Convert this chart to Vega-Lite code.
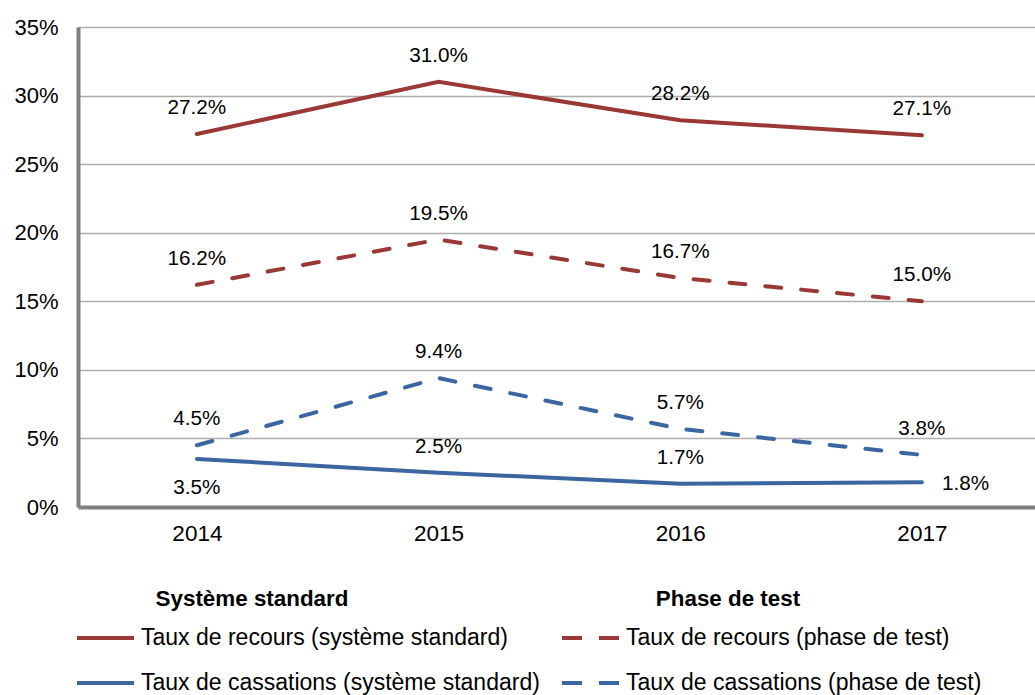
{
  "$schema": "https://vega.github.io/schema/vega-lite/v6.json",
  "width": 957,
  "height": 480,
  "autosize": {"type": "none"},
  "padding": {"left": 78, "top": 27, "right": 0, "bottom": 188},
  "background": "white",
  "config": {
    "view": {"stroke": null},
    "font": "Liberation Sans",
    "legend": {
      "orient": "none",
      "direction": "vertical",
      "symbolType": "stroke",
      "symbolSize": 3249,
      "symbolStrokeWidth": 4,
      "labelFontSize": 23,
      "labelFont": "Liberation Sans",
      "labelColor": "#000000",
      "titleFontSize": 22.4,
      "titleFont": "Liberation Sans",
      "titleFontWeight": "bold",
      "titleColor": "#000000",
      "titleAnchor": "middle",
      "titleLimit": 500,
      "titlePadding": 10,
      "rowPadding": 10,
      "labelOffset": 5,
      "clipHeight": 35,
      "labelLimit": 0
    }
  },
  "data": {
    "values": [
      {"annee": 2014, "serie": "Taux de recours (système standard)", "systeme": "standard", "valeur": 0.272},
      {"annee": 2015, "serie": "Taux de recours (système standard)", "systeme": "standard", "valeur": 0.310},
      {"annee": 2016, "serie": "Taux de recours (système standard)", "systeme": "standard", "valeur": 0.282},
      {"annee": 2017, "serie": "Taux de recours (système standard)", "systeme": "standard", "valeur": 0.271},
      {"annee": 2014, "serie": "Taux de cassations (système standard)", "systeme": "standard", "valeur": 0.035},
      {"annee": 2015, "serie": "Taux de cassations (système standard)", "systeme": "standard", "valeur": 0.025},
      {"annee": 2016, "serie": "Taux de cassations (système standard)", "systeme": "standard", "valeur": 0.017},
      {"annee": 2017, "serie": "Taux de cassations (système standard)", "systeme": "standard", "valeur": 0.018},
      {"annee": 2014, "serie": "Taux de recours (phase de test)", "systeme": "test", "valeur": 0.162},
      {"annee": 2015, "serie": "Taux de recours (phase de test)", "systeme": "test", "valeur": 0.195},
      {"annee": 2016, "serie": "Taux de recours (phase de test)", "systeme": "test", "valeur": 0.167},
      {"annee": 2017, "serie": "Taux de recours (phase de test)", "systeme": "test", "valeur": 0.150},
      {"annee": 2014, "serie": "Taux de cassations (phase de test)", "systeme": "test", "valeur": 0.045},
      {"annee": 2015, "serie": "Taux de cassations (phase de test)", "systeme": "test", "valeur": 0.094},
      {"annee": 2016, "serie": "Taux de cassations (phase de test)", "systeme": "test", "valeur": 0.057},
      {"annee": 2017, "serie": "Taux de cassations (phase de test)", "systeme": "test", "valeur": 0.038}
    ]
  },
  "encoding": {
    "x": {
      "field": "annee",
      "type": "quantitative",
      "scale": {"domain": [2013.508, 2017.468], "nice": false, "zero": false},
      "axis": {
        "values": [2014, 2015, 2016, 2017],
        "format": "d",
        "title": null,
        "grid": false,
        "ticks": false,
        "domainColor": "#7f7f7f",
        "domainWidth": 4,
        "labelFontSize": 22.5,
        "labelColor": "#000000",
        "labelPadding": 15,
        "labelFont": "Liberation Sans"
      }
    },
    "y": {
      "field": "valeur",
      "type": "quantitative",
      "scale": {"domain": [0, 0.35], "nice": false},
      "axis": {
        "values": [0, 0.05, 0.1, 0.15, 0.2, 0.25, 0.3, 0.35],
        "format": ".0%",
        "title": null,
        "ticks": false,
        "grid": true,
        "gridColor": "#adadad",
        "gridWidth": 1.7,
        "domainColor": "#7f7f7f",
        "domainWidth": 4,
        "labelFontSize": 22,
        "labelColor": "#000000",
        "labelPadding": 20,
        "labelFont": "Liberation Sans"
      }
    }
  },
  "layer": [
    {
      "transform": [{"filter": "datum.systeme === 'standard'"}],
      "mark": {"type": "line", "strokeWidth": 4, "strokeCap": "round"},
      "encoding": {
        "color": {
          "field": "serie",
          "type": "nominal",
          "scale": {
            "domain": ["Taux de recours (système standard)", "Taux de cassations (système standard)"],
            "range": ["#9a3835", "#3b66a1"]
          },
          "legend": {
            "title": "Système standard",
            "legendX": -3,
            "legendY": 561,
            "encode": {"title": {"update": {"dx": {"value": -55}}}}
          }
        }
      }
    },
    {
      "transform": [{"filter": "datum.systeme === 'test'"}],
      "mark": {"type": "line", "strokeWidth": 4, "strokeCap": "round", "strokeDash": [16, 20]},
      "encoding": {
        "color": {
          "field": "serie",
          "type": "nominal",
          "scale": {
            "domain": ["Taux de recours (phase de test)", "Taux de cassations (phase de test)"],
            "range": ["#9a3835", "#3b66a1"]
          },
          "legend": {
            "title": "Phase de test",
            "legendX": 482,
            "legendY": 561,
            "symbolDash": [20, 17],
            "encode": {"title": {"update": {"dx": {"value": -43}}}}
          }
        }
      }
    },
    {
      "transform": [{"filter": "!((datum.serie === 'Taux de cassations (système standard)') && (datum.annee === 2014 || datum.annee === 2017))"}],
      "mark": {"type": "text", "dy": -26, "fontSize": 20.7, "color": "#000000", "baseline": "middle", "align": "center"},
      "encoding": {"text": {"field": "valeur", "type": "quantitative", "format": ".1%"}}
    },
    {
      "transform": [{"filter": "datum.serie === 'Taux de cassations (système standard)' && datum.annee === 2014"}],
      "mark": {"type": "text", "dy": 29, "fontSize": 20.7, "color": "#000000", "baseline": "middle", "align": "center"},
      "encoding": {"text": {"field": "valeur", "type": "quantitative", "format": ".1%"}}
    },
    {
      "transform": [{"filter": "datum.serie === 'Taux de cassations (système standard)' && datum.annee === 2017"}],
      "mark": {"type": "text", "dx": 20, "dy": 2, "fontSize": 20.7, "color": "#000000", "baseline": "middle", "align": "left"},
      "encoding": {"text": {"field": "valeur", "type": "quantitative", "format": ".1%"}}
    }
  ],
  "resolve": {"scale": {"color": "independent"}}
}
